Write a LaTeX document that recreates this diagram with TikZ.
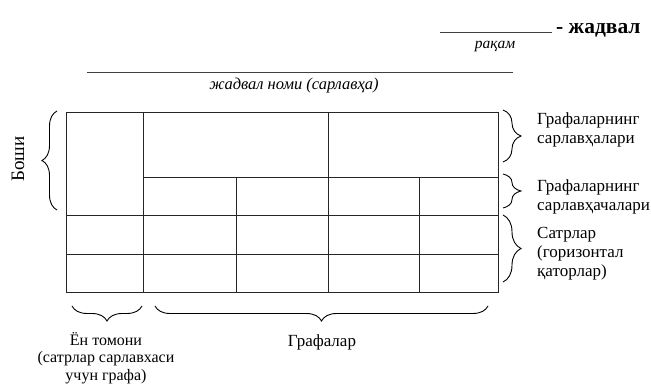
\documentclass[tikz,border=0pt]{standalone}
\usepackage{fontspec}
\setmainfont{Liberation Serif}
\usetikzlibrary{decorations.pathreplacing}
\begin{document}
\begin{tikzpicture}[x=1pt,y=-1pt,
  grid/.style={line width=0.9pt,black!85},
  rule/.style={line width=0.9pt,black!75},
  brc/.style={decorate,decoration={brace,amplitude=#1},line width=0.9pt},
  lbl/.style={font=\fontsize{17}{19}\selectfont,align=left,anchor=west,inner sep=0pt},
  clbl/.style={font=\fontsize{16}{17.5}\selectfont,align=center,inner sep=0pt}]
\useasboundingbox (0,0) rectangle (651,385);
% top number line
\coordinate (n1) at (440,32); \coordinate (n2) at (552,32);
\draw[rule] (n1) -- (n2);
\node[anchor=west,inner sep=0pt,font=\fontsize{21.5}{24}\selectfont\bfseries] (jad) at (556,30) {- жадвал};
\node[inner sep=0pt,font=\fontsize{15.5}{17}\selectfont\itshape] (raq) at (495,46) {рақам};
% title line
\coordinate (t1) at (87,72); \coordinate (t2) at (513,72);
\draw[rule] (t1) -- (t2);
\node[inner sep=0pt,font=\fontsize{16.5}{18}\selectfont\itshape] (nom) at (294,86) {жадвал номи (сарлавҳа)};
% table
\coordinate (A) at (66,112); \coordinate (B) at (498,292);
\draw[grid] (A) rectangle (B);
\draw[grid] (143,112) -- (143,292);
\draw[grid] (328,112) -- (328,292);
\draw[grid] (236,177) -- (236,292);
\draw[grid] (419,177) -- (419,292);
\draw[grid] (143,177) -- (498,177);
\draw[grid] (66,215) -- (498,215);
\draw[grid] (66,254) -- (498,254);
% left brace
\coordinate (lb1) at (57,210); \coordinate (lb2) at (57,111);
\draw[brc=15pt] (lb1) -- (lb2);
\node[rotate=90,inner sep=0pt,font=\fontsize{19}{20}\selectfont] (bosh) at (18,159) {Боши};
% right braces
\coordinate (r1a) at (503,110); \coordinate (r1b) at (503,162);
\draw[brc=18pt] (r1a) -- (r1b);
\node[lbl] (g1) at (537,130) {Графаларнинг\\сарлавҳалари};
\coordinate (r2a) at (503,174); \coordinate (r2b) at (503,208);
\draw[brc=18pt] (r2a) -- (r2b);
\node[lbl] (g2) at (537,197) {Графаларнинг\\сарлавҳачалари};
\coordinate (r3a) at (503,215); \coordinate (r3b) at (503,282);
\draw[brc=18pt] (r3a) -- (r3b);
\node[lbl] (s3) at (537,254) {Сатрлар\\(горизонтал\\қаторлар)};
% bottom braces
\coordinate (b1a) at (142,306); \coordinate (b1b) at (72,306);
\draw[brc=15pt] (b1a) -- (b1b);
\node[clbl,anchor=south] (en) at (106,384) {Ён томони\\(сатрлар сарлавхаси\\учун графа)};
\coordinate (b2a) at (488,306); \coordinate (b2b) at (155,306);
\draw[brc=15pt] (b2a) -- (b2b);
\node[clbl,anchor=north,font=\fontsize{17}{18}\selectfont] (graf) at (322,335) {Графалар};
\end{tikzpicture}
\end{document}
